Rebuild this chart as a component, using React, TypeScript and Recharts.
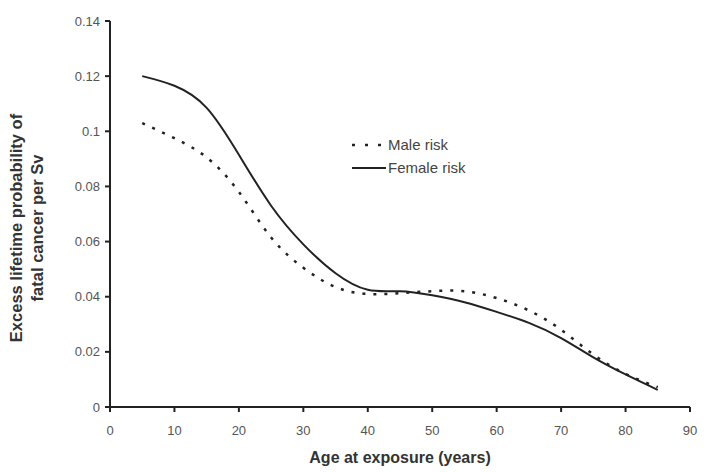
import React from 'react'
import { LineChart, Line, XAxis, YAxis } from 'recharts'

const ages = [5, 10, 15, 20, 25, 30, 35, 40, 45, 50, 55, 60, 65, 70, 75, 80, 85]
const femaleRisk = [0.12, 0.1165, 0.1085, 0.0915, 0.073, 0.059, 0.0485, 0.0425, 0.042, 0.0405, 0.038, 0.0345, 0.0305, 0.025, 0.018, 0.0118, 0.0062]
const maleRisk = [0.103, 0.0975, 0.0905, 0.078, 0.0615, 0.0505, 0.0435, 0.041, 0.0413, 0.042, 0.042, 0.0395, 0.035, 0.028, 0.019, 0.012, 0.0072]
const xTicks = [0, 10, 20, 30, 40, 50, 60, 70, 80, 90]
const yTicks = [0, 0.02, 0.04, 0.06, 0.08, 0.1, 0.12, 0.14]
const seriesNames = ['Male risk', 'Female risk']

const data = ages.map((age, i) => ({ age, male: maleRisk[i], female: femaleRisk[i] }))

const ink = '#222'
const font = 'Arial, "Liberation Sans", sans-serif'
const dotted = '3 8'

function LegendBox() {
  return (
    <svg width={160} height={40} style={{ position: 'absolute', left: 350, top: 134, overflow: 'visible' }}>
      <line x1={2} y1={11} x2={36} y2={11} stroke={ink} strokeWidth={2.5} strokeDasharray="3 10" />
      <text x={38} y={16} fontSize={15} fill="#444" fontFamily={font}>{seriesNames[0]}</text>
      <line x1={2} y1={34} x2={36} y2={34} stroke={ink} strokeWidth={2} />
      <text x={38} y={39} fontSize={15} fill="#444" fontFamily={font}>{seriesNames[1]}</text>
    </svg>
  )
}

function YLabel() {
  return (
    <text
      transform="translate(22, 228) rotate(-90)"
      textAnchor="middle"
      fontSize={16.5}
      fontWeight={700}
      fill="#333"
      fontFamily={font}
    >
      <tspan x={0} dy={0}>Excess lifetime probability of</tspan>
      <tspan x={0} dy={21}>fatal cancer per Sv</tspan>
    </text>
  )
}

export default function App() {
  return (
    <div style={{ position: 'fixed', left: 0, top: 0, width: 706, height: 472, background: '#fff' }}>
      <LineChart width={706} height={472} data={data} margin={{ top: 21, right: 16, bottom: 35, left: 50 }}>
        <XAxis
          type="number"
          dataKey="age"
          domain={[0, 90]}
          ticks={xTicks}
          height={30}
          stroke={ink}
          strokeWidth={2}
          tickSize={5}
          tickMargin={14}
          tick={{ fill: '#555', fontSize: 13, fontFamily: font }}
          label={{ value: 'Age at exposure (years)', position: 'insideBottom', offset: -26, fontSize: 16, fontWeight: 700, fill: '#333', fontFamily: font }}
        />
        <YAxis
          type="number"
          domain={[0, 0.14]}
          ticks={yTicks}
          width={60}
          stroke={ink}
          strokeWidth={2}
          tickSize={5}
          tickMargin={5}
          tick={{ fill: '#555', fontSize: 13, fontFamily: font }}
          tickFormatter={(v: number) => String(v)}
          label={<YLabel />}
        />
        <Line type="natural" dataKey="male" name={seriesNames[0]} stroke={ink} strokeWidth={2.5} strokeDasharray={dotted} dot={false} isAnimationActive={false} />
        <Line type="natural" dataKey="female" name={seriesNames[1]} stroke={ink} strokeWidth={2} dot={false} isAnimationActive={false} />
      </LineChart>
      <LegendBox />
    </div>
  )
}
